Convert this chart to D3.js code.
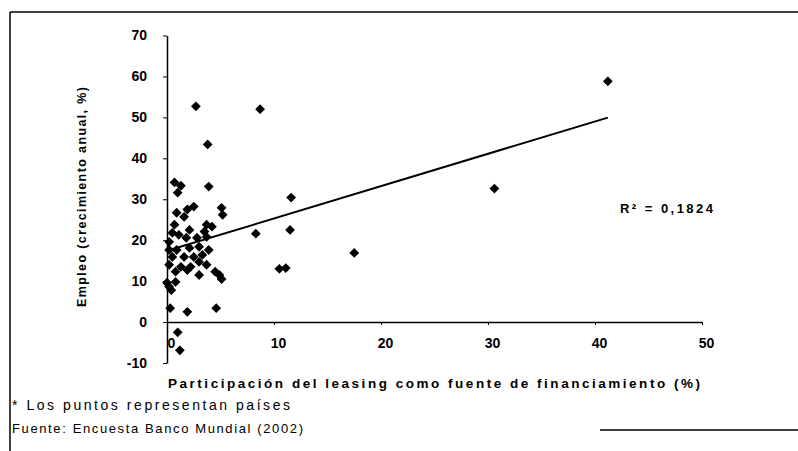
<!DOCTYPE html>
<html>
<head>
<meta charset="utf-8">
<script src="https://cdn.jsdelivr.net/npm/d3@7"></script>
<style>
body { margin: 0; background: #fff; }
svg text { font-family: "Liberation Sans", Arial, sans-serif; fill: #000; }
</style>
</head>
<body>
<script>
// leasing share (%) vs employment growth (%), one point per country
var leasing = [41.2, 30.6, 11.6, 11.5, 17.5, 10.5, 11.1, 8.3, 8.7, 2.7, 3.8, 3.9,
    0.7, 1.3, 1.0, 2.5, 1.9, 0.9, 1.6, 0.7, 2.1, 5.1, 5.2, 3.7, 4.2, 3.5,
    0.5, 1.1, 1.8, 0.2, 2.8, 3.7, 0.2, 0.9, 2.1, 3.0, 3.9, 0.5, 1.6, 2.5,
    3.3, 3.0, 0.2, 1.3, 2.2, 3.7, 0.8, 1.9, 3.0, 4.5, 4.9, 5.1, 0.0, 0.8,
    0.2, 0.4, 0.3, 1.9, 4.6, 1.0, 1.2];
var empleo = [58.8, 32.6, 30.4, 22.5, 16.9, 13.0, 13.2, 21.6, 52.0, 52.7, 43.4, 33.1,
    34.1, 33.3, 31.6, 28.2, 27.5, 26.7, 25.7, 23.8, 22.5, 27.9, 26.2, 23.8, 23.3, 22.1,
    21.8, 21.3, 20.6, 19.6, 20.6, 20.8, 17.6, 17.6, 18.1, 18.4, 17.6, 15.9, 15.9, 15.9,
    16.4, 14.7, 14.0, 13.5, 13.5, 14.0, 12.3, 12.7, 11.5, 12.3, 11.5, 10.5, 9.6, 9.8,
    8.6, 7.8, 3.4, 2.5, 3.4, -2.5, -6.9];

var xTicks = [0, 10, 20, 30, 40, 50];
var yTicks = [-10, 0, 10, 20, 30, 40, 50, 60, 70];

// linear trend
var trendIntercept = 17.4;
var trendSlope = 0.79;
var rSquaredLabel = "R\u00b2 = 0,1824";

var data = leasing.map(function(v, i) { return {x: v, y: empleo[i]}; });

var width = 798, height = 451;

var svg = d3.select("body").append("svg")
    .attr("width", width)
    .attr("height", height);

// frame of the scanned figure
svg.append("line").attr("x1", 10).attr("y1", 12).attr("x2", 798).attr("y2", 12)
    .attr("stroke", "#000").attr("stroke-width", 1.5);
svg.append("line").attr("x1", 10).attr("y1", 12).attr("x2", 10).attr("y2", 451)
    .attr("stroke", "#000").attr("stroke-width", 1.5);
svg.append("line").attr("x1", 600).attr("y1", 430).attr("x2", 798).attr("y2", 430)
    .attr("stroke", "#000").attr("stroke-width", 1.5);

var xScale = d3.scaleLinear()
    .domain([0, 50])
    .range([167, 702]);

var yScale = d3.scaleLinear()
    .domain([-10, 70])
    .range([363, 35.5]);

// y axis
var yAxis = svg.append("g")
    .attr("transform", "translate(" + xScale(0) + ",0)")
    .call(d3.axisLeft(yScale)
        .tickValues(yTicks)
        .tickFormat(function(d) { return String(d); })
        .tickSize(4)
        .tickSizeOuter(0)
        .tickPadding(16));
yAxis.selectAll("text")
    .style("font-size", "14px")
    .style("font-weight", "bold")
    .style("font-family", "'Liberation Sans', Arial, sans-serif");

// x axis
var xAxis = svg.append("g")
    .attr("transform", "translate(0," + yScale(0) + ")")
    .call(d3.axisBottom(xScale)
        .tickValues(xTicks)
        .tickFormat(function(d) { return String(d); })
        .tickSize(3)
        .tickSizeOuter(0)
        .tickPadding(13));
xAxis.selectAll("text")
    .attr("dx", 4)
    .style("font-size", "14px")
    .style("font-weight", "bold")
    .style("font-family", "'Liberation Sans', Arial, sans-serif");

svg.selectAll(".domain").attr("stroke-width", 1.5);

// trend line across the data range
var xExt = d3.extent(leasing);
var trend = xExt.map(function(v) { return {x: v, y: trendIntercept + trendSlope * v}; });

var line = d3.line()
    .x(function(d) { return xScale(d.x); })
    .y(function(d) { return yScale(d.y); });

svg.append("path")
    .datum(trend)
    .attr("fill", "none")
    .attr("stroke", "#000")
    .attr("stroke-width", 2)
    .attr("d", line);

// diamond markers
svg.selectAll(".dot")
    .data(data)
  .enter().append("path")
    .attr("class", "dot")
    .attr("d", d3.symbol().type(d3.symbolSquare).size(48))
    .attr("transform", function(d) {
        return "translate(" + xScale(d.x) + "," + yScale(d.y) + ") rotate(45)";
    })
    .attr("fill", "#000");

svg.append("text")
    .attr("x", 620)
    .attr("y", 213)
    .style("font-size", "13px")
    .style("font-weight", "bold")
    .attr("textLength", 93)
    .attr("lengthAdjust", "spacing")
    .text(rSquaredLabel);

// axis titles
svg.append("text")
    .attr("transform", "translate(86,197) rotate(-90)")
    .attr("text-anchor", "middle")
    .style("font-size", "12.5px")
    .style("font-weight", "bold")
    .attr("textLength", 220)
    .attr("lengthAdjust", "spacing")
    .text("Empleo (crecimiento anual, %)");

svg.append("text")
    .attr("x", 168)
    .attr("y", 388)
    .style("font-size", "13.5px")
    .style("font-weight", "bold")
    .attr("textLength", 532)
    .attr("lengthAdjust", "spacing")
    .text("Participación del leasing como fuente de financiamiento (%)");

// notes
svg.append("text")
    .attr("x", 12)
    .attr("y", 410)
    .style("font-size", "14px")
    .attr("textLength", 278)
    .attr("lengthAdjust", "spacing")
    .text("* Los puntos representan países");

svg.append("text")
    .attr("x", 12)
    .attr("y", 433)
    .style("font-size", "13px")
    .attr("textLength", 291)
    .attr("lengthAdjust", "spacing")
    .text("Fuente: Encuesta Banco Mundial (2002)");
</script>
</body>
</html>
